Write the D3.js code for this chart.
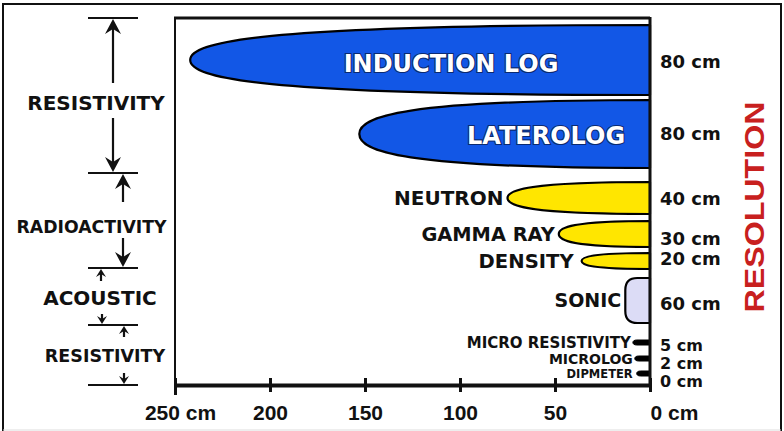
<!DOCTYPE html>
<html>
<head>
<meta charset="utf-8">
<script src="https://cdn.jsdelivr.net/npm/d3@7/dist/d3.min.js"></script>
<style>
  html, body { margin: 0; padding: 0; background: #fff; }
  svg { display: block; }
</style>
</head>
<body>
<svg id="chart" width="784" height="431"></svg>
<script>
// ---------------- DATA ----------------
const tools = ["INDUCTION LOG", "LATEROLOG", "NEUTRON", "GAMMA RAY", "DENSITY", "SONIC",
               "MICRO RESISTIVITY", "MICROLOG", "DIPMETER"];
// depth of investigation (cm)
const depthCm = [242, 153, 75, 48, 36, 13, 9, 8, 7];
// vertical resolution (cm), right-hand labels
const resolutionCm = [80, 80, 40, 30, 20, 60, 5, 2, 0];
const xTickValues = [250, 200, 150, 100, 50, 0];
const groupNames = ["RESISTIVITY", "RADIOACTIVITY", "ACOUSTIC", "RESISTIVITY"];

// ---------------- LAYOUT / STYLE ----------------
const W = 784, H = 431;
const plot = { left: 175, right: 650, top: 18, bottom: 385 };
const rowLayout = [
  { top: 25,  bottom: 95,  fill: "#1257e6", kind: "bullet", label: "inside",  fs: 24 },
  { top: 100, bottom: 168, fill: "#1257e6", kind: "bullet", label: "inside",  fs: 24 },
  { top: 182, bottom: 214, fill: "#ffe600", kind: "bullet", label: "outside", fs: 20, gap: 4 },
  { top: 221, bottom: 247, fill: "#ffe600", kind: "bullet", label: "outside", fs: 19.4, gap: 4 },
  { top: 253, bottom: 269, fill: "#ffe600", kind: "bullet", label: "outside", fs: 19.6, gap: 8 },
  { top: 278, bottom: 323, fill: "#dcdcf6", kind: "round",  label: "outside", fs: 19, gap: 4 },
  { top: 340, bottom: 345, fill: "#000",    kind: "pill",   label: "outside", fs: 15, gap: 2 },
  { top: 356, bottom: 361, fill: "#000",    kind: "pill",   label: "outside", fs: 14, gap: 2 },
  { top: 371, bottom: 376, fill: "#000",    kind: "pill",   label: "outside", fs: 11.5, gap: 4 }
];
const labelBaselines = [68, 140, 205, 245, 265, 310, 351, 369, 387];
const labelSizes = [18, 18, 18, 18, 18, 18, 16, 16, 16];
const groupSep = [18, 173, 268, 325, 385];

const svg = d3.select("#chart");
const BOLD = "'DejaVu Sans', Verdana, sans-serif";
const ARIAL = "'Liberation Sans', Arial, sans-serif";

// outer frame
svg.append("path")
  .attr("d", `M3,${H} V4 H781 V${H}`)
  .attr("fill", "none").attr("stroke", "#111").attr("stroke-width", 2);
svg.append("line").attr("x1", 3).attr("x2", 781).attr("y1", 430).attr("y2", 430)
  .attr("stroke", "#ddd").attr("stroke-width", 1);

// ---------------- SCALES ----------------
const x = d3.scaleLinear().domain([0, 250]).range([plot.right, plot.left]);

// ---------------- SHAPES ----------------
function shapePath(i) {
  const r = rowLayout[i];
  const x0 = x(depthCm[i]), xr = x(0);
  const top = r.top, bot = r.bottom, yc = (top + bot) / 2, hh = (bot - top) / 2;
  const L = xr - x0;
  if (r.kind === "bullet") {
    const k1 = 0.5 * hh, k2 = 0.14 * L;
    return `M${xr},${top} C${x0 + k2},${top} ${x0},${yc - k1} ${x0},${yc}` +
           ` C${x0},${yc + k1} ${x0 + k2},${bot} ${xr},${bot} Z`;
  } else if (r.kind === "round") {
    const rr = 12;
    return `M${xr},${top} L${x0 + rr},${top} Q${x0},${top} ${x0},${top + rr}` +
           ` L${x0},${bot - rr} Q${x0},${bot} ${x0 + rr},${bot} L${xr},${bot} Z`;
  } else {
    const k = hh;
    return `M${xr},${top} L${x0 + k * 1.6},${top} C${x0 + k * 0.4},${top} ${x0},${yc - k * 0.5} ${x0},${yc}` +
           ` C${x0},${yc + k * 0.5} ${x0 + k * 0.4},${bot} ${x0 + k * 1.6},${bot} L${xr},${bot} Z`;
  }
}

const marks = svg.append("g");
marks.selectAll("path.tool")
  .data(tools)
  .join("path")
  .attr("class", "tool")
  .attr("d", (d, i) => shapePath(i))
  .attr("fill", (d, i) => rowLayout[i].fill)
  .attr("stroke", "#000")
  .attr("stroke-width", (d, i) => rowLayout[i].kind === "pill" ? 1 : 2.2)
  .attr("stroke-linejoin", "round");

// labels inside (blue)
const insideX = [451, 546];
marks.selectAll("text.inside")
  .data(tools.filter((d, i) => rowLayout[i].label === "inside"))
  .join("text")
  .attr("class", "inside")
  .attr("x", (d, i) => insideX[i])
  .attr("y", (d, i) => labelBaselines[i] + 4)
  .attr("text-anchor", "middle")
  .attr("font-family", BOLD).attr("font-weight", "bold")
  .attr("font-size", 24)
  .attr("fill", "#fff")
  .attr("stroke", "#0b2a70").attr("stroke-width", 2.2)
  .attr("paint-order", "stroke")
  .text(d => d);

// labels outside
tools.forEach((d, i) => {
  const r = rowLayout[i];
  if (r.label !== "outside") return;
  const yc = (r.top + r.bottom) / 2;
  const capH = r.fs * 0.729;
  marks.append("text")
    .attr("x", x(depthCm[i]) - r.gap)
    .attr("y", yc + capH / 2)
    .attr("text-anchor", "end")
    .attr("font-family", BOLD).attr("font-weight", "bold")
    .attr("font-size", r.fs)
    .attr("fill", "#111")
    .text(d);
});

// ---------------- FRAME & AXIS ----------------
const frame = svg.append("g");
frame.append("line").attr("x1", plot.left).attr("x2", plot.left)
  .attr("y1", plot.top).attr("y2", plot.bottom).attr("stroke", "#111").attr("stroke-width", 2);
frame.append("line").attr("x1", plot.left - 1).attr("x2", plot.right)
  .attr("y1", plot.top).attr("y2", plot.top).attr("stroke", "#111").attr("stroke-width", 3);
frame.append("line").attr("x1", plot.right).attr("x2", plot.right)
  .attr("y1", plot.top - 1).attr("y2", plot.bottom + 2).attr("stroke", "#111").attr("stroke-width", 3);

const axis = d3.axisBottom(x)
  .tickValues(xTickValues)
  .tickSizeInner(7).tickSizeOuter(0)
  .tickFormat(d => (d === 250 || d === 0) ? `${d} cm` : `${d}`);
const ax = svg.append("g").attr("transform", `translate(0,${plot.bottom})`).call(axis);
ax.select(".domain").attr("stroke", "#111").attr("stroke-width", 4);
ax.selectAll(".tick line").attr("y1", -7).attr("y2", d => d === 250 ? 10 : 7)
  .attr("stroke", "#111").attr("stroke-width", 3);
ax.selectAll(".tick text")
  .attr("y", 35).attr("dy", 0)
  .attr("dx", d => d === 250 ? 5 : (d === 0 ? 24 : 0))
  .attr("font-family", ARIAL).attr("font-weight", "bold")
  .attr("font-size", 21).attr("fill", "#111");

// ---------------- RESOLUTION LABELS ----------------
svg.append("g").selectAll("text")
  .data(resolutionCm)
  .join("text")
  .attr("x", 660)
  .attr("y", (d, i) => labelBaselines[i])
  .attr("font-family", BOLD).attr("font-weight", "bold")
  .attr("font-size", (d, i) => labelSizes[i]).attr("fill", "#111")
  .text(d => `${d} cm`);

svg.append("text")
  .attr("transform", "translate(764,207) rotate(-90)")
  .attr("text-anchor", "middle")
  .attr("font-family", ARIAL).attr("font-weight", "bold")
  .attr("font-size", 28).attr("fill", "#c8201e")
  .attr("textLength", 211).attr("lengthAdjust", "spacingAndGlyphs")
  .text("RESOLUTION");

// ---------------- LEFT GROUP ANNOTATIONS ----------------
const ann = svg.append("g");
groupSep.forEach(yv => {
  ann.append("line").attr("x1", 88).attr("x2", 138).attr("y1", yv).attr("y2", yv)
    .attr("stroke", "#111").attr("stroke-width", 2);
});

function arrow(xv, yFrom, yTip, big) {
  const dir = yTip < yFrom ? -1 : 1; // -1 up
  const len = big ? 15 : 8, hw = big ? 8 : 5, notch = big ? 5 : 3;
  const base = yTip - dir * len;
  ann.append("line").attr("x1", xv).attr("x2", xv)
    .attr("y1", yFrom).attr("y2", yTip - dir * notch)
    .attr("stroke", "#111").attr("stroke-width", 2.2);
  ann.append("path")
    .attr("d", `M${xv},${yTip} L${xv - hw},${base} L${xv},${base + dir * notch} L${xv + hw},${base} Z`)
    .attr("fill", "#111");
}
arrow(113, 83, 19, true);
arrow(113, 118, 172, true);
arrow(123, 202, 174, true);
arrow(123, 238, 267, true);
arrow(101, 281, 269, false);
arrow(102, 314, 324, false);
arrow(124, 337, 326, false);
arrow(124, 373, 384, false);

const groupLabelPos = [
  { x: 96,   y: 110, fs: 20 },
  { x: 91.5, y: 233, fs: 17.3 },
  { x: 100,  y: 305, fs: 20 },
  { x: 105,  y: 362, fs: 17.5 }
];
ann.selectAll("text")
  .data(groupNames)
  .join("text")
  .attr("x", (d, i) => groupLabelPos[i].x)
  .attr("y", (d, i) => groupLabelPos[i].y)
  .attr("text-anchor", "middle")
  .attr("font-family", BOLD).attr("font-weight", "bold")
  .attr("font-size", (d, i) => groupLabelPos[i].fs)
  .attr("fill", "#111")
  .text(d => d);
</script>
</body>
</html>
